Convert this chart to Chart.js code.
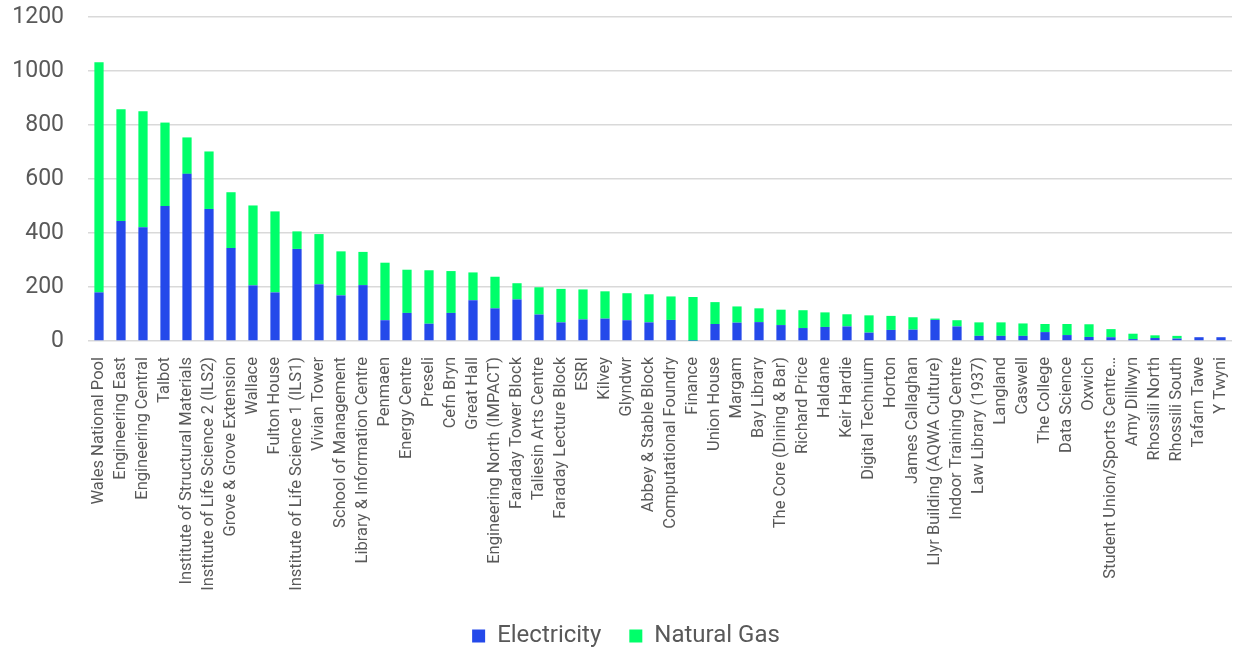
<!DOCTYPE html>
<html>
<head>
<meta charset="utf-8">
<script src="https://cdn.jsdelivr.net/npm/chart.js@4"></script>
<style>
html,body{margin:0;padding:0;background:#fff;overflow:hidden;}
#wrap{width:1234px;height:649px;overflow:hidden;}
</style>
</head>
<body>
<div id="wrap"><canvas id="c" width="1234" height="658"></canvas></div>
<script>
const categories = ["Wales National Pool","Engineering East","Engineering Central","Talbot","Institute of Structural Materials","Institute of Life Science 2 (ILS2)","Grove & Grove Extension","Wallace","Fulton House","Institute of Life Science 1 (ILS1)","Vivian Tower","School of Management","Library & Information Centre","Penmaen","Energy Centre","Preseli","Cefn Bryn","Great Hall","Engineering North (IMPACT)","Faraday Tower Block","Taliesin Arts Centre","Faraday Lecture Block","ESRI","Kilvey","Glyndwr","Abbey & Stable Block","Computational Foundry","Finance","Union House","Margam","Bay Library","The Core (Dining & Bar)","Richard Price","Haldane","Keir Hardie","Digital Technium","Horton","James Callaghan","Llyr Building (AQWA Culture)","Indoor Training Centre","Law Library (1937)","Langland","Caswell","The College","Data Science","Oxwich","Student Union/Sports Centre…","Amy Dillwyn","Rhossili North","Rhossili South","Tafarn Tawe","Y Twyni"];
const electricity = [180,444,421,500,619,489,344,206,180,341,210,169,207,77,104,64,104,151,121,154,98,69,80,83,77,69,78,1,63,68,70,59,48,52,54,31,41,42,78,54,19,19,19,33,22,15,14,7,11,9,14,14];
const naturalGas = [852,414,430,309,135,213,207,296,300,65,186,163,123,213,160,198,155,103,117,60,101,124,111,101,100,104,87,162,81,60,51,57,66,54,45,64,52,46,5,23,50,50,46,30,41,47,30,20,10,10,0,0];
const yTicks = [0,200,400,600,800,1000,1200];

const legendShift = {
  id: 'legendShift',
  afterLayout(chart) {
    const l = chart.legend;
    if (l) { l.left += 10; l.right += 10; }
  }
};

new Chart(document.getElementById('c'), {
  type: 'bar',
  plugins: [legendShift],
  data: {
    labels: categories,
    datasets: [
      {label: 'Electricity', data: electricity, backgroundColor: '#2449EA', barPercentage: 0.42, categoryPercentage: 1},
      {label: 'Natural Gas', data: naturalGas, backgroundColor: '#00FF6A', barPercentage: 0.42, categoryPercentage: 1}
    ]
  },
  options: {
    responsive: false,
    animation: false,
    devicePixelRatio: 1,
    layout: {padding: {left: 0, right: 2, top: 17, bottom: 0}},
    plugins: {
      legend: {
        position: 'bottom',
        labels: {boxWidth: 13, boxHeight: 13, padding: 28, color: '#595959', font: {family: 'Roboto', size: 24}}
      },
      tooltip: {enabled: false}
    },
    scales: {
      x: {
        stacked: true,
        grid: {display: false},
        border: {display: false},
        ticks: {minRotation: 90, maxRotation: 90, autoSkip: false, color: '#595959', font: {family: 'Roboto', size: 16.5}, padding: 8},
        afterFit: (axis) => { axis.height = 255; axis.paddingLeft = 0; axis.paddingRight = 0; }
      },
      y: {
        stacked: true,
        min: 0, max: 1200,
        afterBuildTicks: (axis) => { axis.ticks = yTicks.map(v => ({value: v})); },
        grid: {color: '#D9D9D9', lineWidth: 1.5, drawTicks: false},
        border: {display: false},
        ticks: {color: '#595959', font: {family: 'Roboto', size: 23}, padding: 24, callback: (v) => String(v)},
        afterFit: (axis) => { axis.width = 88; axis.paddingTop = 0; axis.paddingBottom = 0; }
      }
    }
  }
});
</script>
</body>
</html>
